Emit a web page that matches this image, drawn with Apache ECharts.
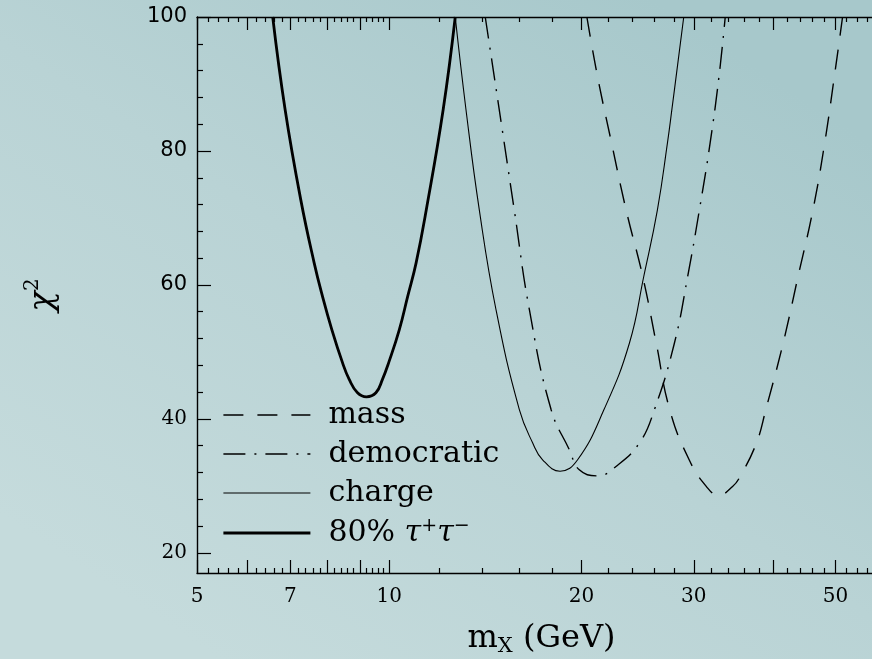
<!DOCTYPE html>
<html>
<head>
<meta charset="utf-8">
<script src="https://cdn.jsdelivr.net/npm/echarts@6/dist/echarts.min.js"></script>
<style>
  html, body { margin: 0; padding: 0; }
  #chart { width: 872px; height: 659px; }
</style>
</head>
<body>
<div id="chart"></div>
<script>
// chi^2 as a function of m_X for four coupling scenarios: [m_X (GeV), chi^2]
const massCurve = [
  [20.4, 100], [21.2, 91.1], [22.3, 81.2], [23.5, 71.2], [24.95, 61.3], [26.2, 51.3],
  [27.5, 41.4], [29.5, 33.9], [31.4, 29.9], [32.8, 28.6], [34.5, 29.9], [35.45, 31.4],
  [37.6, 36.4], [38.9, 41.4], [41.4, 51.3], [43.7, 61.3], [46.1, 71.2], [48.1, 81.2],
  [49.8, 91.1], [51.3, 100]
];
const democraticCurve = [
  [14.14, 100], [14.87, 86.2], [15.70, 71.2], [16.58, 56.3], [17.93, 41.4], [19.15, 35.4],
  [19.85, 32.4], [21.21, 31.5], [22.66, 32.9], [24.65, 36.4], [26.03, 41.4], [27.97, 51.3],
  [29.35, 61.3], [30.61, 71.2], [31.82, 81.2], [32.85, 91.1], [33.6, 100]
];
const chargeCurve = [
  [12.69, 100], [13.19, 86.2], [13.84, 71.2], [14.70, 56.3], [15.99, 41.4], [16.78, 36.4],
  [17.39, 33.9], [18.52, 32.2], [19.73, 33.9], [21.7, 41.4], [23.78, 51.3],
  [25.05, 61.3], [26.31, 71.2], [27.28, 81.2], [27.72, 86.2], [28.93, 100]
];
const tauCurve = [
  [6.57, 100], [6.87, 86.2], [7.27, 72.7], [7.629, 63.3], [7.862, 58.3], [8.133, 53.3],
  [8.450, 48.4], [8.657, 45.9], [8.920, 43.9], [9.214, 43.3], [9.532, 43.9], [9.760, 45.9],
  [9.982, 48.4], [10.37, 53.3], [10.69, 58.3], [11.02, 63.3], [11.43, 71.2], [12.15, 86.2],
  [12.69, 100]
];

const seriesNames = ['mass', 'democratic', 'charge', '80% τ+τ−'];

// axis ticks and labels
const xLabelValues = [5, 7, 10, 20, 30, 50];
const xMajorTicks = [5, 6, 7, 8, 9, 10, 20, 30, 40, 50, 60];
const xMinorTicks = [
  5.2, 5.4, 5.6, 5.8, 6.2, 6.4, 6.6, 6.8, 7.2, 7.4, 7.6, 7.8,
  8.2, 8.4, 8.6, 8.8, 9.2, 9.4, 9.6, 9.8,
  12, 14, 16, 18, 22, 24, 26, 28, 32, 34, 36, 38, 42, 44, 46, 48, 52, 54, 56, 58
];
const yMajorTicks = [20, 40, 60, 80, 100];
const yMinorTicks = [24, 28, 32, 36, 44, 48, 52, 56, 64, 68, 72, 76, 84, 88, 92, 96];

const SERIF = '"DejaVu Serif", "Liberation Serif", serif';
const SANS = '"DejaVu Sans", "Liberation Sans", sans-serif';
const INK = '#000000';

function xAxisDef(position, ticks, len, withLabels, withLine) {
  return {
    type: 'log', logBase: 10, min: 5, max: 60, position: position,
    axisLine: { show: withLine, onZero: false, lineStyle: { color: INK, width: 1.4 } },
    axisTick: { show: true, inside: true, length: len, customValues: ticks, lineStyle: { color: INK, width: 1.2 } },
    axisLabel: withLabels
      ? { show: true, customValues: xLabelValues, margin: 14, color: INK, fontFamily: SERIF, fontSize: 20 }
      : { show: false },
    splitLine: { show: false },
    minorTick: { show: false }
  };
}

function yAxisDef(position, ticks, len, withLabels, withLine) {
  return {
    type: 'value', min: 17, max: 100, position: position,
    axisLine: { show: withLine, onZero: false, lineStyle: { color: INK, width: 1.4 } },
    axisTick: { show: true, inside: true, length: len, customValues: ticks, lineStyle: { color: INK, width: 1.2 } },
    axisLabel: withLabels
      ? {
          show: true, customValues: yMajorTicks, margin: 10, color: INK,
          formatter: v => (v >= 60 ? '{s|' + v + '}' : '{r|' + v + '}'),
          rich: {
            s: { fontFamily: SANS, fontSize: 21, color: INK },
            r: { fontFamily: SERIF, fontSize: 20, color: INK }
          }
        }
      : { show: false },
    splitLine: { show: false }
  };
}

const xAxes = [
  xAxisDef('bottom', xMajorTicks, 13, true, true),
  xAxisDef('bottom', xMinorTicks, 5, false, false),
  xAxisDef('top', xMajorTicks, 13, false, true),
  xAxisDef('top', xMinorTicks, 5, false, false)
];
xAxes[0].name = '{m|m}{x|X}{m| (GeV)}';
xAxes[0].nameLocation = 'middle';
xAxes[0].nameGap = 48;
xAxes[0].nameTextStyle = {
  color: INK,
  rich: {
    m: { fontFamily: SERIF, fontSize: 32, color: INK, lineHeight: 36 },
    x: { fontFamily: SERIF, fontSize: 21, color: INK, lineHeight: 16, verticalAlign: 'bottom' }
  }
};

const yAxes = [
  yAxisDef('left', yMajorTicks, 14, true, true),
  yAxisDef('left', yMinorTicks, 6, false, false),
  yAxisDef('right', yMajorTicks, 14, false, true),
  yAxisDef('right', yMinorTicks, 6, false, false)
];
yAxes[0].name = '{c|χ}{s|2}';
yAxes[0].nameLocation = 'middle';
yAxes[0].nameRotate = 90;
yAxes[0].nameGap = 134;
yAxes[0].nameTextStyle = {
  color: INK,
  rich: {
    c: { fontFamily: SERIF, fontStyle: 'italic', fontSize: 34, color: INK, lineHeight: 40 },
    s: { fontFamily: SERIF, fontSize: 20, color: INK, lineHeight: 20, verticalAlign: 'top' }
  }
};

function curve(name, data, width, dash) {
  return {
    name: name, type: 'line', data: data,
    xAxisIndex: 0, yAxisIndex: 0,
    smooth: 0.45, symbol: 'none', showSymbol: false,
    lineStyle: { color: INK, width: width, type: dash, cap: 'butt' },
    itemStyle: { color: INK },
    emphasis: { disabled: true },
    z: 3
  };
}

const option = {
  animation: false,
  backgroundColor: {
    type: 'linear', x: 0.75, y: 0, x2: 0.25, y2: 1,
    colorStops: [
      { offset: 0, color: '#a7c8cb' },
      { offset: 0.5, color: '#b9d3d5' },
      { offset: 1, color: '#c5dbdc' }
    ]
  },
  grid: { left: 197, top: 17, width: 689, height: 556, outerBoundsMode: 'none', containLabel: false },
  xAxis: xAxes,
  yAxis: yAxes,
  legend: {
    show: true, orient: 'vertical', left: 222, top: 400, padding: 0,
    itemWidth: 87, itemHeight: 14, itemGap: 9,
    data: seriesNames,
    selectedMode: false,
    itemStyle: { color: 'rgba(0,0,0,0)', borderWidth: 0, opacity: 0 },
    lineStyle: { width: 'inherit' },
    formatter: name => name === '80% τ+τ−'
      ? '{n|80%}{n| }{t|τ}{p|+}{t|τ}{p|−}'
      : '{n|' + name + '}',
    textStyle: {
      color: INK, padding: [0, 0, 0, 13],
      rich: {
        n: { fontFamily: SERIF, fontSize: 30, color: INK, lineHeight: 32 },
        t: { fontFamily: SERIF, fontStyle: 'italic', fontSize: 30, color: INK, lineHeight: 32 },
        p: { fontFamily: SERIF, fontSize: 19, color: INK, lineHeight: 20, verticalAlign: 'top' }
      }
    }
  },
  series: [
    curve(seriesNames[0], massCurve, 1.4, [20, 14]),
    curve(seriesNames[1], democraticCurve, 1.4, [22, 9, 2, 9]),
    curve(seriesNames[2], chargeCurve, 1.1, 'solid'),
    curve(seriesNames[3], tauCurve, 2.8, 'solid')
  ]
};

const chart = echarts.init(document.getElementById('chart'), null, { renderer: 'canvas' });
chart.setOption(option);
</script>
</body>
</html>
